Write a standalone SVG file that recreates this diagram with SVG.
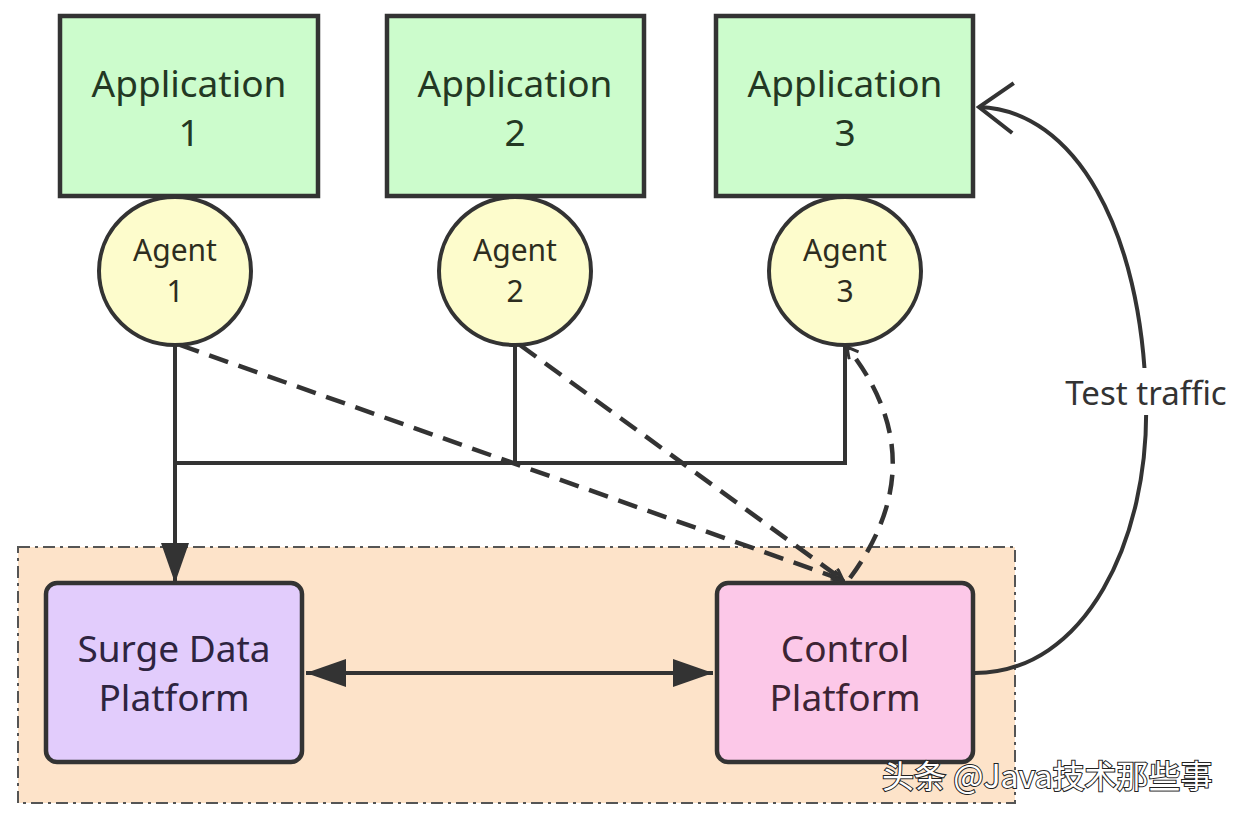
<svg xmlns="http://www.w3.org/2000/svg" width="1240" height="816" viewBox="0 0 1240 816">
<style>
  .app{fill:#ccfccc;stroke:#333;stroke-width:4.5}
  .agent{fill:#fdfccc;stroke:#333;stroke-width:4}
  .t{font-family:"Noto Sans","Liberation Sans",sans-serif;text-anchor:middle}
  .tapp{font-size:37px;fill:#233823}
  .tag{font-size:30px;fill:#2d2d20}
  .solid{fill:none;stroke:#333;stroke-width:4}
  .dash{fill:none;stroke:#333;stroke-width:4.5;stroke-dasharray:20 11}
</style>
<defs>
  <marker id="fill" viewBox="0 0 40 28" refX="40" refY="14" markerWidth="40" markerHeight="28" markerUnits="userSpaceOnUse" orient="auto-start-reverse">
    <path d="M0 0 L40 14 L0 28 Z" fill="#333"/>
  </marker>
  <marker id="openS" viewBox="0 0 14 14" refX="12" refY="7" markerWidth="14" markerHeight="14" markerUnits="userSpaceOnUse" orient="auto">
    <path d="M1 1 L12 7 L1 13" fill="none" stroke="#333" stroke-width="3"/>
  </marker>
  <marker id="openL" viewBox="0 0 40 56" refX="37" refY="28" markerWidth="40" markerHeight="56" markerUnits="userSpaceOnUse" orient="auto">
    <path d="M3 3 L37 28 L3 53" fill="none" stroke="#333" stroke-width="4"/>
  </marker>
</defs>
<rect width="1240" height="816" fill="#fff"/>

<g id="group-platforms">
  <rect x="18" y="547" width="997" height="256" fill="#fde3c9" stroke="#555" stroke-width="2" stroke-dasharray="12 5 3 5"/>
</g>

<g id="app1"><rect class="app" x="60" y="16" width="258" height="180"/>
  <text class="t tapp" x="189" y="97">Application</text><text class="t tapp" x="189" y="146">1</text></g>
<g id="app2"><rect class="app" x="387" y="16" width="257" height="180"/>
  <text class="t tapp" x="515" y="97">Application</text><text class="t tapp" x="515" y="146">2</text></g>
<g id="app3"><rect class="app" x="716" y="16" width="257" height="180"/>
  <text class="t tapp" x="845" y="97">Application</text><text class="t tapp" x="845" y="146">3</text></g>

<g id="agent1"><ellipse class="agent" cx="175" cy="271" rx="76" ry="74"/>
  <text class="t tag" x="175" y="261">Agent</text><text class="t tag" x="175" y="302">1</text></g>
<g id="agent2"><ellipse class="agent" cx="515" cy="271" rx="76" ry="74"/>
  <text class="t tag" x="515" y="261">Agent</text><text class="t tag" x="515" y="302">2</text></g>
<g id="agent3"><ellipse class="agent" cx="845" cy="271" rx="76" ry="74"/>
  <text class="t tag" x="845" y="261">Agent</text><text class="t tag" x="845" y="302">3</text></g>

<g id="surge"><rect x="46" y="583" width="256" height="179" rx="11" fill="#e2ccfc" stroke="#333" stroke-width="4.5"/>
  <text class="t" x="174" y="662" font-size="37" fill="#2e2440">Surge Data</text>
  <text class="t" x="174" y="711" font-size="37" fill="#2e2440">Platform</text></g>
<g id="control"><rect x="717" y="583" width="256" height="179" rx="11" fill="#fcc8e8" stroke="#333" stroke-width="4.5"/>
  <text class="t" x="845" y="662" font-size="37" fill="#3d2434">Control</text>
  <text class="t" x="845" y="711" font-size="37" fill="#3d2434">Platform</text></g>

<g id="connectors">
  <path class="solid" d="M175 346 V463"/>
  <path class="solid" d="M515 346 V463"/>
  <path class="solid" d="M845 346 V463"/>
  <path class="solid" stroke-width="5.5" d="M173 463 H515"/>
  <path class="solid" d="M515 463 H847"/>
  <path class="solid" stroke-width="5" d="M175 461 V583" marker-end="url(#fill)"/>
  <path class="solid" stroke-width="3.5" d="M306 673 H713" marker-start="url(#fill)" marker-end="url(#fill)"/>
  <path class="dash" d="M180 345 L843 580" marker-end="url(#openS)"/>
  <path class="dash" d="M520 345 L843 580" marker-end="url(#openS)"/>
  <path class="dash" d="M850 578 Q937 460 847 347" marker-end="url(#openS)"/>
  <path class="solid" stroke-width="3.5" d="M975 673 C1085 673 1150 540 1146 400 C1142 230 1075 110 979 107" marker-end="url(#openL)"/>
  <g id="label-test">
    <rect x="1060" y="368" width="172" height="47" fill="#fff"/>
    <text class="t" x="1146" y="405" font-size="33" fill="#333">Test traffic</text>
  </g>
</g>

<text x="882" y="788" font-family="'Noto Sans CJK SC','Noto Sans',sans-serif" font-size="32" fill="#fff" stroke="#222" stroke-width="2" paint-order="stroke">头条 @Java技术那些事</text>
</svg>
